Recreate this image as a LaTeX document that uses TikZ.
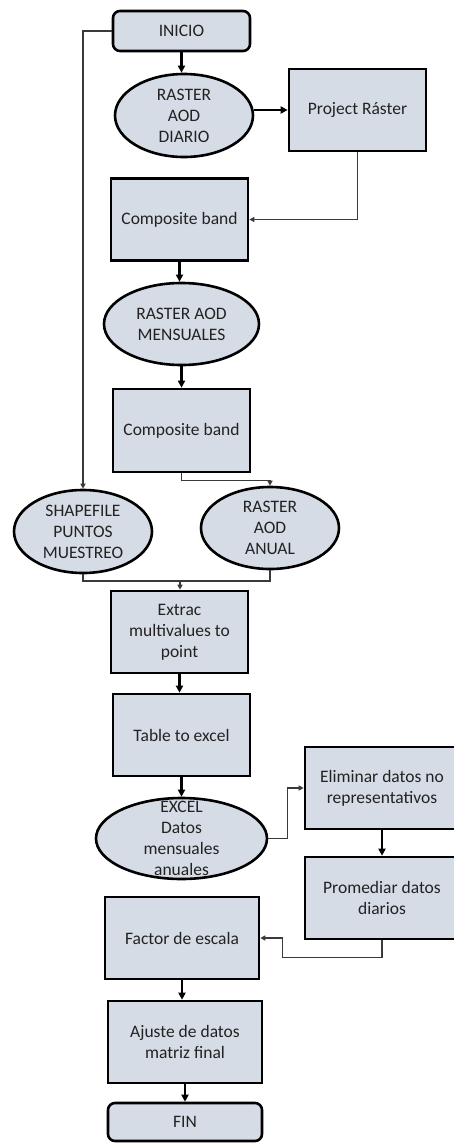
\documentclass[tikz,border=0pt]{standalone}
\usepackage{fontspec}
\setmainfont{Carlito}
\usetikzlibrary{shapes.geometric, arrows.meta}
\definecolor{relleno}{HTML}{D6DCE5}
\definecolor{texto}{HTML}{222222}
\definecolor{linea}{HTML}{3A3A3A}

\begin{document}
\begin{tikzpicture}[x = 1pt, y = -1pt,
	font = \fontsize{17.5}{21}\selectfont, text = texto,
	caja/.style = {rectangle, draw = black, fill = relleno, line width = 2.6pt, align = center, inner sep = 2pt},
	inicio/.style = {caja, rounded corners = 7pt},
	elipse/.style = {ellipse, draw = black, fill = relleno, line width = 2.6pt, align = center, inner sep = 0pt},
	flecha/.style = {-{Triangle[length = 7pt, width = 7pt]}, line width = 2.2pt, black},
	conec/.style = {-{Triangle[length = 5pt, width = 5pt]}, line width = 1.3pt, linea}]
	
	\useasboundingbox (0, 0) rectangle (454, 1143);
	
	% columna central
	% modulos
	\node [inicio, minimum width = 137pt, minimum height = 40pt] (ini) at (181.5, 31) {INICIO};
	\node [elipse, minimum width = 138pt, minimum height = 83pt] (dia) at (184, 115.5) {RASTER\\AOD\\DIARIO};
	\node [caja, minimum width = 137pt, minimum height = 82pt] (comp1) at (179.5, 219.5) {Composite band};
	\node [elipse, minimum width = 155pt, minimum height = 82pt] (mens) at (181.5, 324) {RASTER AOD\\MENSUALES};
	\node [caja, minimum width = 137pt, minimum height = 83pt] (comp2) at (181.5, 430.5) {Composite band};
	\node [caja, minimum width = 137pt, minimum height = 82pt] (extr) at (179.5, 632) {Extrac\\multivalues to\\point};
	\node [caja, minimum width = 137pt, minimum height = 82pt] (tab) at (181.5, 735) {Table to excel};
	\node [elipse, inner ysep = -12pt, minimum width = 171pt, minimum height = 81pt] (excel) at (181.5, 838.5) {EXCEL\\Datos\\mensuales\\anuales};
	\node [caja, minimum width = 154pt, minimum height = 82pt] (fact) at (182, 938) {Factor de escala};
	\node [caja, minimum width = 154pt, minimum height = 82pt] (ajus) at (185, 1042) {Ajuste de datos\\matriz final};
	\node [inicio, minimum width = 154pt, minimum height = 38pt] (fin) at (185, 1122) {FIN};
	
	% izquierda y derecha
	% modulos
	\node [caja, minimum width = 137pt, minimum height = 82pt] (proj) at (357.5, 110) {Project Ráster};
	\node [elipse, minimum width = 138pt, minimum height = 83pt] (shp) at (83, 531.5) {SHAPEFILE\\PUNTOS\\MUESTREO};
	\node [elipse, minimum width = 138pt, minimum height = 82pt] (anual) at (270, 528) {RASTER\\AOD\\ANUAL};
	\node [caja, minimum width = 154pt, minimum height = 82pt] (elim) at (382, 788) {Eliminar datos no\\representativos};
	\node [caja, minimum width = 154pt, minimum height = 82pt] (prom) at (382, 898) {Promediar datos\\diarios};
	
	% lineas
	\coordinate (junta) at (180, 581);
	
	\draw [flecha] (ini.south) -- (ini.south |- dia.north);
	\draw [flecha] (dia.east |- proj.west) -- (proj.west);
	\draw [conec] (proj.south) |- (comp1.east);
	\draw [flecha] (comp1.south) -- (comp1.south |- mens.north);
	\draw [flecha] (mens.south) -- (mens.south |- comp2.north);
	\draw [conec] (comp2.south) -- ++(0, 7) -| (anual.north);
	\draw [conec] (ini.west) -| (shp.north);
	\draw [line width = 1.3pt, linea] (shp.south) |- (junta);
	\draw [line width = 1.3pt, linea] (anual.south) |- (junta);
	\draw [conec] (junta) -- (junta |- extr.north);
	\draw [flecha] (extr.south) -- (extr.south |- tab.north);
	\draw [flecha] (tab.south) -- (tab.south |- excel.north);
	\draw [conec] (excel.east) -- ++(19, 0) |- (elim.west);
	\draw [flecha] (elim.south) -- (prom.north);
	\draw [conec] (prom.south) -- ++(0, 17) -| ([xshift = 22pt]fact.east) -- (fact.east);
	\draw [flecha] (fact.south) -- (fact.south |- ajus.north);
	\draw [flecha] (ajus.south) -- (ajus.south |- fin.north);
\end{tikzpicture}
\end{document}
